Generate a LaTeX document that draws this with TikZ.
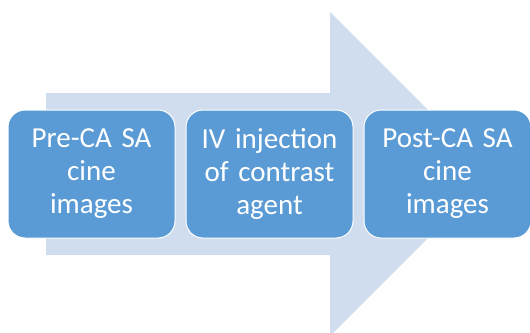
\documentclass[tikz,border=0pt]{standalone}
\usepackage{fontspec}
\setmainfont{Carlito}
\usepackage{tikz}
\usetikzlibrary{positioning}

\definecolor{arrowblue}{HTML}{D0DDEE}
\definecolor{boxblue}{HTML}{5B9BD5}

\begin{document}
\begin{tikzpicture}[
  x=1pt, y=-1pt,
  node distance=10pt and 10pt,
  stepbox/.style={draw=white,line width=1pt,fill=boxblue,rounded corners=17pt,
    minimum width=167pt,minimum height=128pt,text width=160pt,align=center,
    text=white,font=\fontsize{29}{33}\selectfont},
]
\useasboundingbox (0,0) rectangle (530,332);
% big background arrow
\fill[arrowblue] (46,93) -- (330,93) -- (330,12) -- (492,174) -- (330,336)
  -- (330,255) -- (46,255) -- cycle;

\node[stepbox] (pre) at (91.5,174) {Pre-CA SA\\cine\\images};
\node[stepbox,right=of pre] (inject) {IV injection\\of contrast\\agent};
\node[stepbox,right=of inject] (post) {Post-CA SA\\cine\\images};
\end{tikzpicture}
\end{document}
